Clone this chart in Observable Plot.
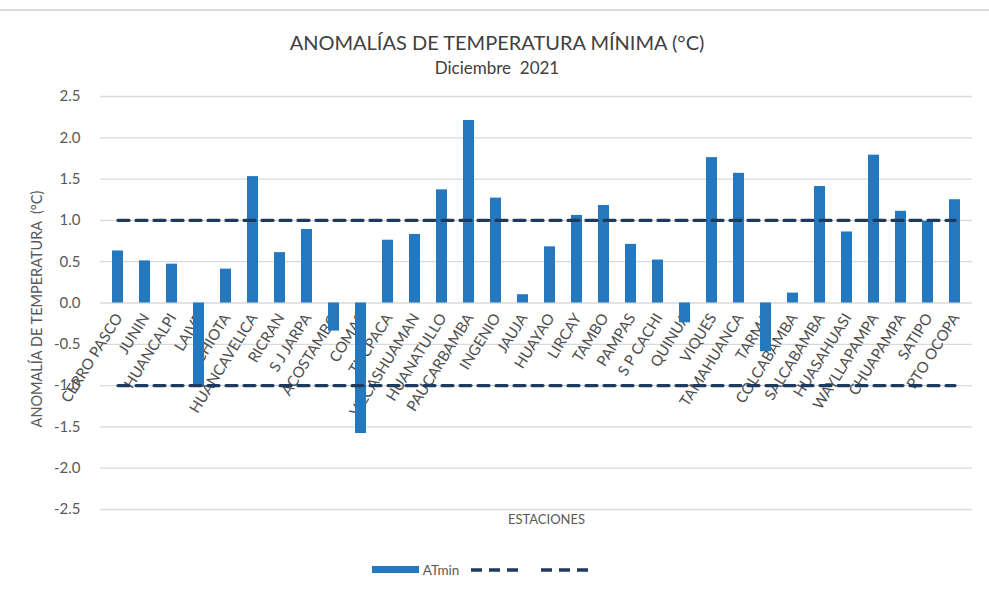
<!DOCTYPE html>
<html>
<head>
<meta charset="utf-8">
<script src="https://cdn.jsdelivr.net/npm/d3@7"></script>
<script src="https://cdn.jsdelivr.net/npm/@observablehq/plot@0.6"></script>
<style>
  html, body { margin: 0; padding: 0; background: #fff; }
  #wrap { position: relative; width: 989px; height: 591px; overflow: hidden; font-family: Lato, "Open Sans", sans-serif; }
  #topline { position: absolute; left: 0; top: 9px; width: 989px; height: 2px; background: #d9d9d9; }
  #title { position: absolute; left: 0; top: 30px; width: 994px; text-align: center; color: #404040; line-height: 25px; }
  #title .t1 { font-size: 20px; }
  #title .t2 { font-size: 17px; }
  #chart { position: absolute; left: 0; top: 80px; }
  #legend { position: absolute; left: 0; top: 562px; width: 964px; display: flex; justify-content: center; align-items: center; color: #595959; font-size: 13.5px; }
  #legend .item { display: flex; align-items: center; }
</style>
</head>
<body>
<div id="wrap">
  <div id="topline"></div>
  <div id="title"><div class="t1">ANOMALÍAS DE TEMPERATURA MÍNIMA (°C)</div><div class="t2">Diciembre&nbsp; 2021</div></div>
  <div id="chart"></div>
  <div id="legend"></div>
</div>
<script>
const stations = ["CERRO PASCO","JUNIN","HUANCALPI","LAIVE","CHIOTA","HUANCAVELICA","RICRAN","S J JARPA","ACOSTAMBO","COMAS","TUCPACA","VILCASHUAMAN","HUANATULLO","PAUCARBAMBA","INGENIO","JAUJA","HUAYAO","LIRCAY","TAMBO","PAMPAS","S P CACHI","QUINUA","VIQUES","TAMAHUANCA","TARMA","COLCABAMBA","SALCABAMBA","HUASAHUASI","WAYLLAPAMPA","CHUAPAMPA","SATIPO","PTO OCOPA"];
const atmin = [0.63,0.51,0.47,-1.02,0.41,1.53,0.61,0.89,-0.34,-1.58,0.76,0.83,1.37,2.21,1.27,0.10,0.68,1.06,1.18,0.71,0.52,-0.24,1.76,1.57,-0.59,0.12,1.41,0.86,1.79,1.11,0.99,1.25];
const thresholds = [1.0, -1.0];
const yTicks = [2.5,2.0,1.5,1.0,0.5,0.0,-0.5,-1.0,-1.5,-2.0,-2.5];
const seriesName = "ATmin";
const xTitle = "ESTACIONES";
const yTitle = "ANOMALÍA DE TEMPERATURA \u00a0(°C)";

const barColor = "#2478be";
const dashColor = "#1f3a5f";

const data = stations.map((s, i) => ({station: s, value: atmin[i]}));
const lines = thresholds.flatMap(t => stations.map(s => ({station: s, t})));

const chart = Plot.plot({
  width: 989,
  height: 460,
  marginTop: 16,
  marginBottom: 31,
  marginLeft: 100,
  marginRight: 17,
  style: {fontFamily: "Lato, 'Open Sans', sans-serif", color: "#595959", background: "transparent"},
  x: {domain: stations, paddingInner: 0.61, paddingOuter: 0.31, axis: null},
  y: {domain: [-2.5, 2.5], axis: null},
  marks: [
    Plot.gridY(yTicks, {stroke: "#d9d9d9", strokeOpacity: 1, strokeWidth: 1.3}),
    Plot.axisY(yTicks, {tickSize: 0, tickPadding: 20, tickFormat: d => d.toFixed(1), fontSize: 15, label: null}),
    Plot.text(stations, {x: d => d, y: 0, text: d => d, rotate: -58, textAnchor: "end", dx: 1, dy: 12, fontSize: 15, fill: "#4d4d4d"}),
    Plot.barY(data, {x: "station", y: "value", fill: barColor}),
    Plot.lineY(lines, {x: "station", y: "t", z: "t", stroke: dashColor, strokeWidth: 3.2, strokeDasharray: "11,7"}),
    Plot.text([xTitle], {frameAnchor: "bottom", textAnchor: "middle", dx: 10, dy: 14, fontSize: 13, fill: "#595959"}),
    Plot.text([yTitle], {frameAnchor: "left", textAnchor: "middle", rotate: -90, dx: -63, dy: 6, fontSize: 14.5, fill: "#595959"})
  ]
});
document.getElementById("chart").appendChild(chart);

const legend = document.getElementById("legend");
legend.innerHTML = `
  <div class="item"><svg width="47" height="10"><rect x="0" y="1" width="47" height="7" fill="${barColor}"></rect></svg><span style="margin-left:4px">${seriesName}</span></div>
  <div class="item" style="margin-left:12px"><svg width="51" height="10"><line x1="0" x2="51" y1="5" y2="5" stroke="${dashColor}" stroke-width="3.5" stroke-dasharray="11,7"></line></svg></div>
  <div class="item" style="margin-left:19px"><svg width="51" height="10"><line x1="0" x2="51" y1="5" y2="5" stroke="${dashColor}" stroke-width="3.5" stroke-dasharray="11,7"></line></svg></div>
`;
</script>
</body>
</html>
